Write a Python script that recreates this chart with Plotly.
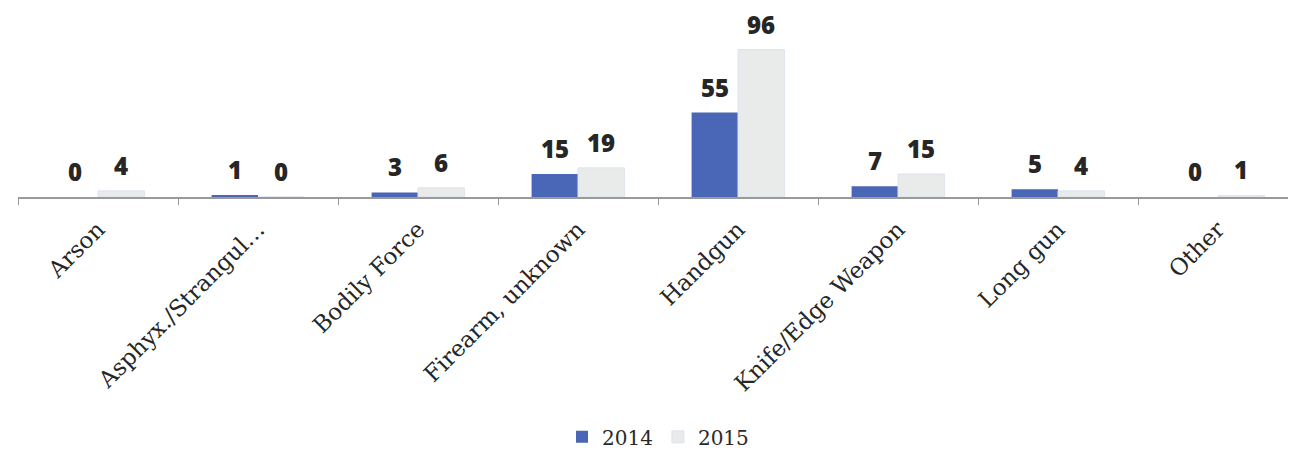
import plotly.graph_objects as go

categories = ['Arson', 'Asphyx./Strangul…', 'Bodily Force', 'Firearm, unknown',
              'Handgun', 'Knife/Edge Weapon', 'Long gun', 'Other']
y2014 = [0, 1, 3, 15, 55, 7, 5, 0]
y2015 = [4, 0, 6, 19, 96, 15, 4, 1]

blue = '#4a67b7'
grey = '#e9eaea'
label_font = dict(family='Open Sans', size=24, color='#262626', weight=800)

fig = go.Figure()
fig.add_trace(go.Bar(x=categories, y=y2014, name='2014', marker=dict(color=blue, line=dict(width=0))))
fig.add_trace(go.Bar(x=categories, y=y2015, name='2015',
                     marker=dict(color=grey, line=dict(color='#dde3f0', width=1))))

# value labels floating a bit above each bar
for i, c in enumerate(categories):
    for vals, shift in ((y2014, -23), (y2015, 23)):
        fig.add_annotation(x=c, y=vals[i], text=str(vals[i]), showarrow=False,
                           xshift=shift, yshift=7, yanchor='bottom', font=label_font)

fig.update_layout(
    width=1296, height=454,
    margin=dict(l=10, r=6, t=10, b=263),
    plot_bgcolor='white', paper_bgcolor='white',
    barmode='group', bargap=0.42, bargroupgap=0,
    showlegend=True,
    legend=dict(orientation='h', x=0.5, xanchor='center', y=-1.34, yanchor='middle',
                font=dict(family='DejaVu Serif', size=20, color='#2a2a2a'),
                itemwidth=30, traceorder='normal'),
    xaxis=dict(tickangle=-45, tickfont=dict(family='DejaVu Serif', size=23, color='#262626'),
               showline=True, linecolor='#9a9a9a', linewidth=1.5,
               ticks='outside', ticklen=6, tickcolor='#9a9a9a', tickson='boundaries',
               ticklabelstandoff=8, range=[-0.5, 7.5]),
    yaxis=dict(range=[0, 116.6], visible=False, showgrid=False),
)

fig.write_html('out.html')
